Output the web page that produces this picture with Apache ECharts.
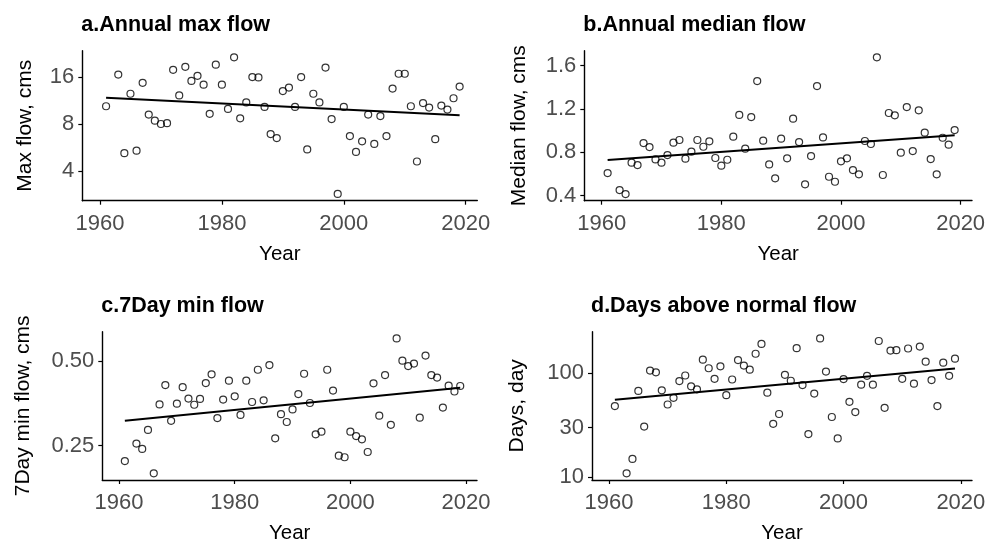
<!DOCTYPE html>
<html>
<head>
<meta charset="utf-8">
<script src="https://cdn.jsdelivr.net/npm/echarts@6/dist/echarts.min.js"></script>
<style>
html,body{margin:0;padding:0;background:#fff;}
#chart{width:990px;height:545px;}
</style>
</head>
<body>
<div id="chart"></div>
<script>
const years = [1961,1963,1964,1965,1966,1967,1968,1969,1970,1971,1972,1973,1974,1975,1976,1977,1978,1979,1980,
  1981,1982,1983,1984,1985,1986,1987,1988,1989,1990,1991,1992,1993,1994,1995,1996,1997,1998,1999,2000,
  2001,2002,2003,2004,2005,2006,2007,2008,2009,2010,2011,2012,2013,2014,2015,2016,2017,2018,2019];

const maxFlow = [10.4,16.6,5.2,12.5,5.4,14.7,9.2,8.4,8.0,8.1,17.8,12.2,18.6,15.1,16.3,14.3,9.3,19.2,14.3,
  10.0,21.4,8.7,11.0,16.0,15.9,10.3,6.9,6.5,13.0,13.7,10.3,16.0,5.5,12.5,11.0,18.4,8.6,2.85,10.3,
  6.7,5.3,6.2,9.2,5.96,9.0,6.7,13.5,16.8,16.8,10.4,4.6,10.9,10.2,6.4,10.5,9.9,11.7,13.9];

const medianFlow = [0.609,0.452,0.415,0.705,0.683,0.886,0.849,0.735,0.705,0.775,0.889,0.914,0.742,0.806,0.914,0.852,0.902,0.748,0.677,
  0.732,0.945,1.145,0.834,1.126,1.458,0.908,0.689,0.560,0.926,0.745,1.111,0.895,0.505,0.766,1.412,0.938,0.575,0.529,0.717,
  0.745,0.637,0.597,0.905,0.877,1.677,0.591,1.163,1.142,0.797,1.218,0.812,1.188,0.982,0.738,0.597,0.935,0.871,1.006];

const minFlow7 = [0.220,0.254,0.243,0.284,0.199,0.350,0.410,0.306,0.352,0.403,0.367,0.349,0.366,0.417,0.448,0.313,0.364,0.425,0.374,
  0.321,0.425,0.357,0.465,0.362,0.483,0.265,0.323,0.303,0.336,0.381,0.450,0.354,0.274,0.280,0.465,0.392,0.230,0.227,0.280,
  0.270,0.263,0.237,0.416,0.319,0.445,0.296,0.601,0.501,0.479,0.489,0.314,0.522,0.445,0.436,0.341,0.408,0.389,0.407];

const daysAbove = [48.3,10.9,15.0,67.5,30.7,106,102,68.4,50.0,57.9,84,95,74.7,70,134.8,111.5,88.3,116.5,61.4,
  87,133.8,118.3,108,153.7,191,65,32.6,40.5,96.4,84.6,174,76.9,26,63.7,216,103.7,37.9,23.6,87.7,
  53.1,42.3,77.5,94.4,77.5,204,46.5,165,166.6,88.3,172.7,79.2,180.4,129,85.8,48.3,126.3,94.4,137.8];

// fitted trend line end points
const trendYears = [1961, 2019];
const trendMax = [11.8, 9.1];
const trendMedian = [0.729, 0.957];
const trendMin7 = [0.306, 0.401];
const trendDays = [55.5, 110.7];

const xTicks = [1960, 1980, 2000, 2020];
const ticksMax = [4, 8, 16];
const ticksMedian = [0.4, 0.8, 1.2, 1.6];
const ticksMin7 = [0.25, 0.5];
const ticksDays = [10, 30, 100];

const titles = ['a.Annual max flow', 'b.Annual median flow', 'c.7Day min flow', 'd.Days above normal flow'];
const yNames = ['Max flow, cms', 'Median flow, cms', '7Day min flow, cms', 'Days, day'];

const FONT = "'Liberation Sans', Arial, sans-serif";
const grids = [
  {left: 82.3, top: 50.7, width: 395, height: 150},
  {left: 584.3, top: 50.7, width: 387.7, height: 150},
  {left: 102.3, top: 331.7, width: 374.7, height: 150},
  {left: 592, top: 331.7, width: 380, height: 150}
];
const yNameGap = [47, 55, 69, 64];

function pairs(xs, ys) { return xs.map((x, i) => [x, ys[i]]); }

const yCfg = [
  {type: 'log', logBase: 2, min: 2.58, max: 23.6, ticks: ticksMax, fmt: v => String(v)},
  {type: 'value', min: 0.354, max: 1.738, ticks: ticksMedian, fmt: v => v.toFixed(1)},
  {type: 'log', logBase: 2, min: 0.1884, max: 0.635, ticks: ticksMin7, fmt: v => v.toFixed(2)},
  {type: 'log', logBase: 10, min: 9.4, max: 250.5, ticks: ticksDays, fmt: v => String(v)}
];
const seriesData = [maxFlow, medianFlow, minFlow7, daysAbove];
const trendData = [trendMax, trendMedian, trendMin7, trendDays];

const option = {
  animation: false,
  backgroundColor: '#ffffff',
  title: titles.map((t, i) => ({
    text: t,
    left: grids[i].left - 1,
    top: i < 2 ? 14.5 : 295.5,
    padding: 0,
    textStyle: {fontFamily: FONT, fontWeight: 'bold', fontSize: 21.5, color: '#000'}
  })),
  grid: grids.map(g => Object.assign({containLabel: false}, g)),
  xAxis: grids.map((g, i) => ({
    type: 'value', gridIndex: i, min: 1957.1, max: 2021.9,
    name: 'Year', nameLocation: 'middle', nameGap: 43,
    nameTextStyle: {fontFamily: FONT, fontSize: 20.5, color: '#000'},
    axisLine: {show: true, onZero: false, lineStyle: {color: '#000', width: 1.4}},
    axisTick: {show: true, length: 4, customValues: xTicks, lineStyle: {color: '#000', width: 1.2}},
    axisLabel: {customValues: xTicks, margin: 12, fontFamily: FONT, fontSize: 22, color: '#4D4D4D',
      formatter: v => String(v)},
    splitLine: {show: false}
  })),
  yAxis: yCfg.map((c, i) => {
    const ax = {
      type: c.type, gridIndex: i, min: c.min, max: c.max,
      name: yNames[i], nameLocation: 'middle', nameGap: yNameGap[i], nameRotate: 90,
      nameTextStyle: {fontFamily: FONT, fontSize: 21, color: '#000'},
      axisLine: {show: true, onZero: false, lineStyle: {color: '#000', width: 1.4}},
      axisTick: {show: true, length: 4, customValues: c.ticks, lineStyle: {color: '#000', width: 1.2}},
      axisLabel: {customValues: c.ticks, margin: 8, fontFamily: FONT, fontSize: 22, color: '#4D4D4D',
        formatter: c.fmt},
      splitLine: {show: false}
    };
    if (c.logBase) ax.logBase = c.logBase;
    return ax;
  }),
  series: [].concat(
    seriesData.map((d, i) => ({
      type: 'scatter', xAxisIndex: i, yAxisIndex: i,
      data: pairs(years, d),
      symbol: 'circle', symbolSize: 7,
      itemStyle: {color: 'rgba(255,255,255,0)', borderColor: '#000', borderWidth: 1.2},
      z: 2
    })),
    trendData.map((d, i) => ({
      type: 'line', xAxisIndex: i, yAxisIndex: i,
      data: pairs(trendYears, d),
      symbol: 'none', lineStyle: {color: '#000', width: 2},
      z: 3
    }))
  )
};

const chart = echarts.init(document.getElementById('chart'), null, {renderer: 'canvas'});
chart.setOption(option);
</script>
</body>
</html>
